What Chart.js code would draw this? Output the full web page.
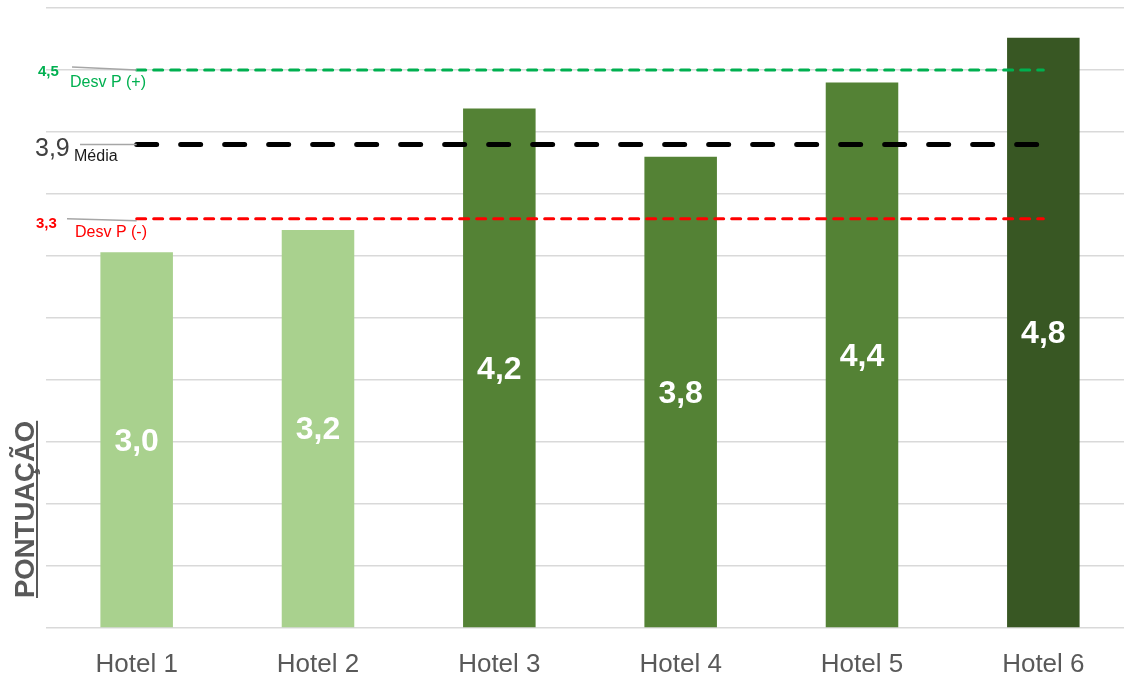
<!DOCTYPE html>
<html>
<head>
<meta charset="utf-8">
<script src="https://cdn.jsdelivr.net/npm/chart.js@4.4.1/dist/chart.umd.min.js"></script>
<style>
  html, body { margin: 0; padding: 0; background: #fff; overflow: hidden; }
  #wrap { width: 1134px; height: 677px; }
</style>
</head>
<body>
<div id="wrap"><canvas id="hotelChart" width="1134" height="677"></canvas></div>
<script>
// Hotel scores
const categories = ['Hotel 1', 'Hotel 2', 'Hotel 3', 'Hotel 4', 'Hotel 5', 'Hotel 6'];
const scores = [3.03, 3.21, 4.19, 3.80, 4.40, 4.76];
const barColors = ['#A9D18E', '#A9D18E', '#548235', '#548235', '#548235', '#385723'];

// reference lines (one value per hotel)
const desvPlus = [4.5, 4.5, 4.5, 4.5, 4.5, 4.5];
const media = [3.9, 3.9, 3.9, 3.9, 3.9, 3.9];
const desvMinus = [3.3, 3.3, 3.3, 3.3, 3.3, 3.3];

const yTicks = { min: 0, max: 5, step: 0.5 };
const axisTitle = 'PONTUAÇÃO';

const FONT = '"Liberation Sans", Arial, sans-serif';
const fmt = v => v.toFixed(1).replace('.', ',');

// white value labels in the middle of each bar
const barLabels = {
    id: 'barLabels',
    afterDatasetsDraw(chart) {
        const ctx = chart.ctx;
        const meta = chart.getDatasetMeta(0);
        ctx.save();
        ctx.fillStyle = '#fff';
        ctx.font = 'bold 32px ' + FONT;
        ctx.textAlign = 'center';
        ctx.textBaseline = 'middle';
        meta.data.forEach((bar, i) => {
            const mid = (bar.y + bar.base) / 2;
            ctx.fillText(fmt(scores[i]), bar.x, mid + 2);
        });
        ctx.restore();
    }
};

// left side callouts for the reference lines + rotated axis title
const sideNotes = {
    id: 'sideNotes',
    afterDraw(chart) {
        const ctx = chart.ctx;
        const y = chart.scales.y;
        const xStart = chart.scales.x.getPixelForValue(0);
        const notes = [
            { v: desvPlus[0], color: '#00B050', val: fmt(desvPlus[0]), valFont: 'bold 15px ', valX: 38, valDy: 6,
              name: 'Desv P (+)', nameX: 70, nameDy: 17, lx: 72, ldy: -3, rdy: 0 },
            { v: media[0], color: '#404040', nameColor: '#1a1a1a', val: fmt(media[0]), valFont: '25px ', valX: 35, valDy: 12,
              name: 'Média', nameX: 74, nameDy: 17, lx: 80, ldy: 0, rdy: 0 },
            { v: desvMinus[0], color: '#FF0000', val: fmt(desvMinus[0]), valFont: 'bold 15px ', valX: 36, valDy: 9,
              name: 'Desv P (-)', nameX: 75, nameDy: 18, lx: 67, ldy: 0, rdy: 2 }
        ];
        ctx.save();
        notes.forEach(n => {
            const py = y.getPixelForValue(n.v);
            ctx.strokeStyle = '#A6A6A6';
            ctx.lineWidth = 1.5;
            ctx.beginPath();
            ctx.moveTo(n.lx, py + n.ldy);
            ctx.lineTo(xStart, py + n.rdy);
            ctx.stroke();

            ctx.textAlign = 'left';
            ctx.textBaseline = 'alphabetic';
            ctx.fillStyle = n.color;
            ctx.font = n.valFont + FONT;
            ctx.fillText(n.val, n.valX, py + n.valDy);
            ctx.fillStyle = n.nameColor || n.color;
            ctx.font = '16px ' + FONT;
            ctx.fillText(n.name, n.nameX, py + n.nameDy);
        });

        // axis title, bottom-to-top, underlined
        ctx.translate(34, 598);
        ctx.rotate(-Math.PI / 2);
        ctx.fillStyle = '#595959';
        ctx.font = 'bold 27.5px ' + FONT;
        ctx.textAlign = 'left';
        ctx.fillText(axisTitle, 0, 0);
        const w = ctx.measureText(axisTitle).width;
        ctx.fillRect(0, 2, w, 2);
        ctx.restore();
    }
};

const dashLine = (label, data, color, width, dash) => ({
    type: 'line',
    label: label,
    data: data,
    borderColor: color,
    borderWidth: width,
    borderDash: dash,
    borderCapStyle: 'round',
    pointRadius: 0,
    fill: false,
    order: 0
});

new Chart(document.getElementById('hotelChart'), {
    type: 'bar',
    data: {
        labels: categories,
        datasets: [
            {
                label: 'Pontuação',
                data: scores,
                backgroundColor: barColors,
                barPercentage: 0.4,
                categoryPercentage: 1,
                order: 10
            },
            dashLine('Desv P (+)', desvPlus, '#00B050', 3, [9, 8]),
            dashLine('Média', media, '#000000', 5, [20, 24]),
            dashLine('Desv P (-)', desvMinus, '#FF0000', 3, [9, 8])
        ]
    },
    options: {
        responsive: false,
        animation: false,
        devicePixelRatio: 1,
        layout: { padding: { top: 8, right: 0, left: 0, bottom: 0 } },
        plugins: {
            legend: { display: false },
            tooltip: { enabled: false }
        },
        scales: {
            x: {
                grid: { display: false },
                border: { display: false },
                ticks: {
                    color: '#595959',
                    font: { family: FONT, size: 26 },
                    padding: 13
                },
                afterFit(scale) { scale.height = 49; }
            },
            y: {
                min: yTicks.min,
                max: yTicks.max,
                ticks: { display: false, stepSize: yTicks.step },
                grid: { color: '#D9D9D9', lineWidth: 1.5, drawTicks: false },
                border: { display: false },
                afterFit(scale) { scale.width = 46; }
            }
        }
    },
    plugins: [barLabels, sideNotes]
});
</script>
</body>
</html>
